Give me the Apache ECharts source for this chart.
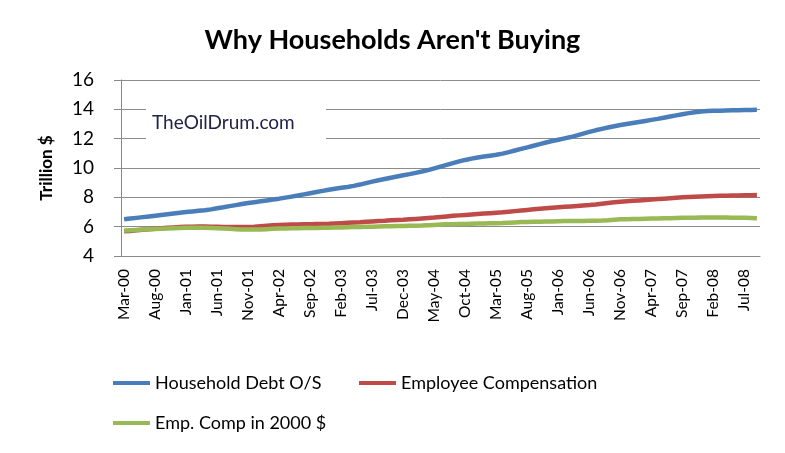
<!DOCTYPE html>
<html>
<head>
<meta charset="utf-8">
<script src="https://cdn.jsdelivr.net/npm/echarts@6/dist/echarts.min.js"></script>
<style>
html,body{margin:0;padding:0;background:#fff;}
#main{width:785px;height:453px;}
</style>
</head>
<body>
<div id="main"></div>
<script>
// monthly, Mar-00 .. Sep-08 (trillion $)
var monthNames = ['Jan','Feb','Mar','Apr','May','Jun','Jul','Aug','Sep','Oct','Nov','Dec'];
var categories = [];
for (var i = 0; i < 103; i++) {
    var m = 2 + i;
    var yy = Math.floor(m / 12);
    categories.push(monthNames[m % 12] + '-' + (yy < 10 ? '0' + yy : yy));
}

var debt = [
    6.50, 6.55, 6.60, 6.65, 6.70, 6.75, 6.80, 6.85, 6.90, 6.95,
    7.00, 7.04, 7.08, 7.12, 7.18, 7.25, 7.32, 7.40, 7.47, 7.54, 7.61, 7.67,
    7.73, 7.79, 7.85, 7.91, 7.98, 8.05, 8.12, 8.20, 8.28, 8.36, 8.44, 8.52,
    8.59, 8.65, 8.71, 8.78, 8.87, 8.97, 9.07, 9.16, 9.25, 9.34, 9.42, 9.50,
    9.58, 9.67, 9.76, 9.86, 9.97, 10.09, 10.21, 10.33, 10.45, 10.55, 10.64, 10.72,
    10.78, 10.84, 10.90, 10.98, 11.08, 11.19, 11.30, 11.41, 11.52, 11.63, 11.74, 11.84,
    11.93, 12.02, 12.11, 12.22, 12.34, 12.46, 12.57, 12.67, 12.76, 12.85, 12.93, 13.00,
    13.07, 13.14, 13.21, 13.28, 13.35, 13.43, 13.51, 13.59, 13.67, 13.74, 13.80, 13.85,
    13.88, 13.90, 13.91, 13.92, 13.93, 13.94, 13.95, 13.96, 13.97
];

var empComp = [
    5.68, 5.71, 5.75, 5.79, 5.83, 5.86, 5.89, 5.92, 5.95, 5.97,
    5.99, 6.00, 6.01, 6.01, 6.00, 5.99, 5.98, 5.97, 5.97, 5.97, 5.98, 6.00,
    6.03, 6.06, 6.09, 6.11, 6.13, 6.14, 6.15, 6.16, 6.17, 6.18, 6.19, 6.20,
    6.22, 6.24, 6.26, 6.28, 6.30, 6.33, 6.36, 6.38, 6.40, 6.43, 6.45, 6.47,
    6.50, 6.53, 6.56, 6.59, 6.62, 6.66, 6.70, 6.74, 6.77, 6.80, 6.83, 6.86,
    6.89, 6.92, 6.95, 6.98, 7.02, 7.06, 7.10, 7.14, 7.18, 7.22, 7.26, 7.29,
    7.32, 7.35, 7.38, 7.41, 7.44, 7.47, 7.51, 7.56, 7.61, 7.66, 7.70, 7.73,
    7.76, 7.79, 7.82, 7.85, 7.88, 7.91, 7.94, 7.97, 8.00, 8.02, 8.04, 8.06,
    8.08, 8.09, 8.10, 8.11, 8.12, 8.13, 8.14, 8.15, 8.16
];

var empComp2000 = [
    5.74, 5.76, 5.78, 5.80, 5.82, 5.84, 5.86, 5.88, 5.90, 5.91,
    5.92, 5.93, 5.93, 5.92, 5.91, 5.89, 5.87, 5.85, 5.83, 5.81, 5.80, 5.80,
    5.81, 5.83, 5.85, 5.87, 5.88, 5.89, 5.90, 5.91, 5.91, 5.91, 5.92, 5.93,
    5.94, 5.95, 5.96, 5.97, 5.98, 5.99, 6.00, 6.01, 6.02, 6.03, 6.04, 6.05,
    6.06, 6.07, 6.08, 6.10, 6.12, 6.14, 6.16, 6.17, 6.18, 6.19, 6.20, 6.21,
    6.22, 6.23, 6.24, 6.25, 6.27, 6.29, 6.31, 6.32, 6.33, 6.34, 6.35, 6.36,
    6.37, 6.38, 6.38, 6.39, 6.39, 6.40, 6.41, 6.42, 6.44, 6.47, 6.50, 6.51,
    6.52, 6.53, 6.54, 6.55, 6.56, 6.57, 6.58, 6.59, 6.60, 6.61, 6.61, 6.62,
    6.62, 6.62, 6.62, 6.62, 6.61, 6.61, 6.60, 6.59, 6.58
];

var seriesNames = ['Household Debt O/S', 'Employee Compensation', 'Emp. Comp in 2000 $'];

var font = 'Lato, "Liberation Sans", sans-serif';

var myChart = echarts.init(document.getElementById('main'));

var legendText = {fontFamily: font, fontSize: 18, color: '#000'};

var option = {
    backgroundColor: '#fff',
    animation: false,
    color: ['#4a7ebb', '#be4b48', '#98b954'],
    title: {
        text: "Why Households Aren't Buying",
        left: 'center',
        top: 27,
        padding: 0,
        textStyle: {fontFamily: font, fontSize: 27, fontWeight: 'bold', color: '#000'}
    },
    legend: [
        {data: [seriesNames[0]], left: 113, top: 374, padding: 0, icon: 'rect', itemWidth: 37, itemHeight: 4, textStyle: legendText},
        {data: [seriesNames[1]], left: 359, top: 374, padding: 0, icon: 'rect', itemWidth: 37, itemHeight: 4, textStyle: legendText},
        {data: [seriesNames[2]], left: 113, top: 414, padding: 0, icon: 'rect', itemWidth: 37, itemHeight: 4, textStyle: legendText}
    ],
    grid: {left: 121, right: 25, top: 80, bottom: 197, containLabel: false},
    graphic: [
        {
            type: 'rect',
            shape: {x: 146, y: 105, width: 180, height: 38},
            style: {fill: '#fff'},
            z: 10
        },
        {
            type: 'text',
            x: 152, y: 113,
            style: {text: 'TheOilDrum.com', fontFamily: font, fontSize: 19, fill: '#23234a'},
            z: 11
        }
    ],
    xAxis: {
        type: 'category',
        data: categories,
        boundaryGap: true,
        axisLine: {lineStyle: {color: '#888', width: 1}},
        axisTick: {interval: 4, length: 6, lineStyle: {color: '#888'}},
        axisLabel: {interval: 4, rotate: 90, margin: 13, fontFamily: font, fontSize: 15.5, color: '#000'}
    },
    yAxis: {
        type: 'value',
        min: 4,
        max: 16,
        interval: 2,
        name: 'Trillion $',
        nameLocation: 'middle',
        nameGap: 66,
        nameTextStyle: {fontFamily: font, fontSize: 17, fontWeight: 'bold', color: '#000'},
        axisLine: {show: true, lineStyle: {color: '#888', width: 1}},
        axisTick: {show: true, length: 7, lineStyle: {color: '#888'}},
        axisLabel: {margin: 27, fontFamily: font, fontSize: 19, color: '#000'},
        splitLine: {lineStyle: {color: '#8c8c8c', width: 1}}
    },
    series: [
        {name: seriesNames[0], type: 'line', data: debt, showSymbol: false, lineStyle: {width: 4.5}},
        {name: seriesNames[1], type: 'line', data: empComp, showSymbol: false, lineStyle: {width: 4.5}},
        {name: seriesNames[2], type: 'line', data: empComp2000, showSymbol: false, lineStyle: {width: 4.5}}
    ]
};

myChart.setOption(option);
</script>
</body>
</html>
